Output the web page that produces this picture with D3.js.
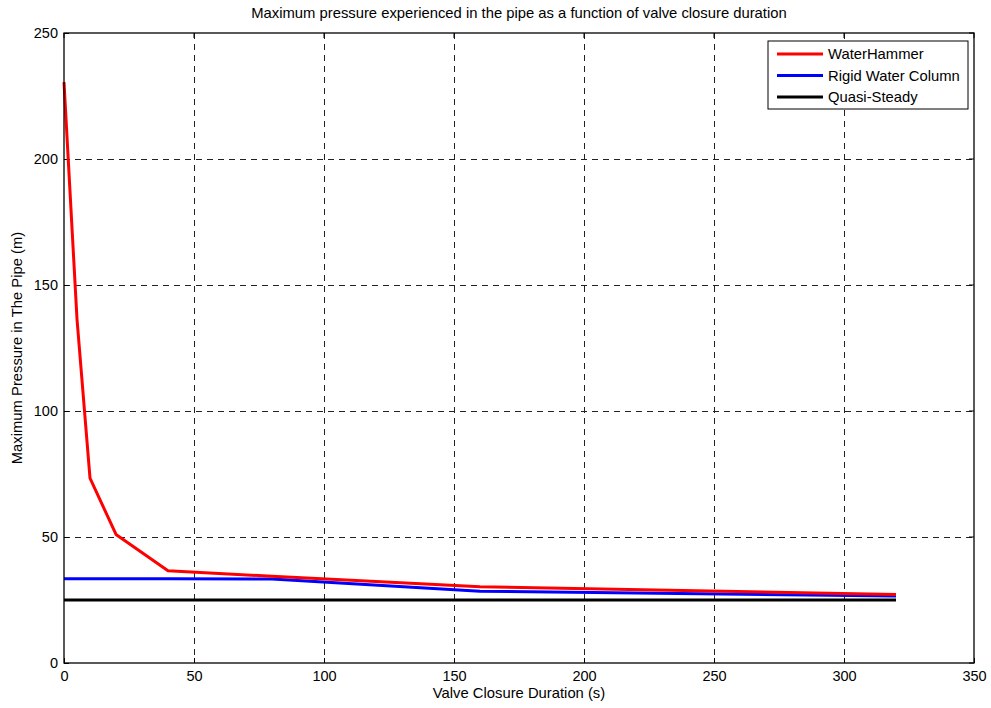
<!DOCTYPE html>
<html>
<head>
  <meta charset="utf-8">
  <style>
    body { margin: 0; background: #fff; }
    text { font-family: "Liberation Sans", Arial, sans-serif; fill: #000; }
    .grid { stroke: #222; stroke-width: 1; stroke-dasharray: 6, 5; shape-rendering: crispEdges; }
  </style>
</head>
<body>
  <div id="chart"></div>
  <script src="https://cdn.jsdelivr.net/npm/d3@7"></script>
  <script>
    // valve closure durations (s)
    var durations = [0, 5, 10, 20, 40, 80, 160, 320];
    // maximum pressure (m) per model
    var waterHammer = [230.5, 136.5, 73.4, 51, 36.6, 34.4, 30.3, 27.2];
    var rigidColumn = [33.4, 33.4, 33.4, 33.4, 33.4, 33.3, 28.5, 26.6];
    var quasiSteady = [25, 25, 25, 25, 25, 25, 25, 25];

    var seriesNames = ['WaterHammer', 'Rigid Water Column', 'Quasi-Steady'];
    var seriesColors = ['#ff0000', '#0000ff', '#000000'];
    var seriesValues = [waterHammer, rigidColumn, quasiSteady];

    var xTicks = [0, 50, 100, 150, 200, 250, 300, 350];
    var yTicks = [0, 50, 100, 150, 200, 250];

    var width = 991, height = 708;
    var plotLeft = 64, plotRight = 974, plotTop = 33, plotBottom = 663;

    var svg = d3.select('#chart').append('svg')
      .attr('width', width)
      .attr('height', height);

    var x = d3.scaleLinear().domain([0, 350]).range([plotLeft, plotRight]);
    var y = d3.scaleLinear().domain([0, 250]).range([plotBottom, plotTop]);

    // grid lines
    svg.append('g').selectAll('line')
      .data(xTicks.slice(1, -1)).enter()
      .append('line')
      .attr('class', 'grid')
      .attr('x1', d => Math.round(x(d)) + 0.5).attr('x2', d => Math.round(x(d)) + 0.5)
      .attr('y1', plotTop).attr('y2', plotBottom);
    svg.append('g').selectAll('line')
      .data(yTicks.slice(1, -1)).enter()
      .append('line')
      .attr('class', 'grid')
      .attr('y1', d => Math.round(y(d)) + 0.5).attr('y2', d => Math.round(y(d)) + 0.5)
      .attr('x1', plotLeft).attr('x2', plotRight);

    // axes with inward ticks
    var xAxis = d3.axisBottom(x).tickValues(xTicks).tickSize(-5).tickPadding(8);
    var yAxis = d3.axisLeft(y).tickValues(yTicks).tickSize(-5).tickPadding(6);
    var gx = svg.append('g').attr('transform', 'translate(0,' + plotBottom + ')').call(xAxis);
    var gy = svg.append('g').attr('transform', 'translate(' + plotLeft + ',0)').call(yAxis);
    [gx, gy].forEach(function (g) {
      g.select('.domain').remove();
      g.selectAll('text')
        .style('font-family', '"Liberation Sans", Arial, sans-serif')
        .style('font-size', '14.5px');
      g.selectAll('line').attr('stroke', '#000');
    });
    // top/right ticks
    svg.append('g').selectAll('line').data(xTicks).enter().append('line')
      .attr('x1', d => x(d)).attr('x2', d => x(d))
      .attr('y1', plotTop).attr('y2', plotTop + 5).attr('stroke', '#000');
    svg.append('g').selectAll('line').data(yTicks).enter().append('line')
      .attr('y1', d => y(d)).attr('y2', d => y(d))
      .attr('x1', plotRight).attr('x2', plotRight - 5).attr('stroke', '#000');

    // data lines
    var line = d3.line()
      .x(function (d, i) { return x(durations[i]); })
      .y(function (d) { return y(d); });

    [2, 1, 0].forEach(function (k) {
      svg.append('path')
        .datum(seriesValues[k])
        .attr('d', line)
        .attr('fill', 'none')
        .attr('stroke', seriesColors[k])
        .attr('stroke-width', 3)
        .attr('stroke-linejoin', 'round');
    });

    // box
    svg.append('rect')
      .attr('x', plotLeft).attr('y', plotTop)
      .attr('width', plotRight - plotLeft).attr('height', plotBottom - plotTop)
      .attr('fill', 'none').attr('stroke', '#000').attr('stroke-width', 1.3);

    // legend
    var legend = svg.append('g').attr('transform', 'translate(768,41)');
    legend.append('rect')
      .attr('width', 200).attr('height', 68)
      .attr('fill', '#fff').attr('stroke', '#000').attr('stroke-width', 1);
    seriesNames.forEach(function (name, i) {
      var ly = 13 + i * 21.5;
      legend.append('line')
        .attr('x1', 9).attr('x2', 55)
        .attr('y1', ly).attr('y2', ly)
        .attr('stroke', seriesColors[i]).attr('stroke-width', 3);
      legend.append('text')
        .attr('x', 60).attr('y', ly + 5)
        .style('font-size', '14.8px')
        .text(name);
    });

    // titles
    svg.append('text')
      .attr('x', (plotLeft + plotRight) / 2).attr('y', 18)
      .attr('text-anchor', 'middle')
      .style('font-size', '14.8px')
      .text('Maximum pressure experienced in the pipe as a function of valve closure duration');
    svg.append('text')
      .attr('x', (plotLeft + plotRight) / 2).attr('y', 698)
      .attr('text-anchor', 'middle')
      .style('font-size', '14.8px')
      .text('Valve Closure Duration (s)');
    svg.append('text')
      .attr('transform', 'translate(22,' + ((plotTop + plotBottom) / 2) + ') rotate(-90)')
      .attr('text-anchor', 'middle')
      .style('font-size', '14.8px')
      .text('Maximum Pressure in The Pipe (m)');
  </script>
</body>
</html>
